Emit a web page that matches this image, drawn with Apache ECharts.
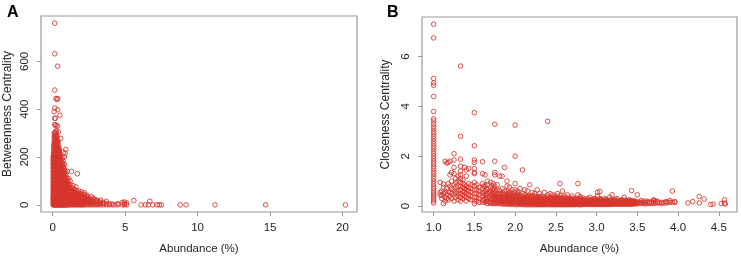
<!DOCTYPE html>
<html>
<head>
<meta charset="utf-8">
<script src="https://cdn.jsdelivr.net/npm/echarts@6/dist/echarts.min.js"></script>
<style>
html,body{margin:0;padding:0;background:#fff;}
#chart{width:741px;height:260px;}
</style>
</head>
<body>
<div id="chart"></div>
<script>
// ---------- Panel A: Abundance (%) vs Betweenness Centrality ----------
// columns: [abundance, [betweenness values at that abundance]]
const panelAColumns = [
  [0.02, [0,10,20,30,42,55,68,80,95,110,125,140,155,170,185,200]],
  [0.06, [0,8,16,25,34,45,56,66,78,90,102,115,128,140,152,165,178,190,205,220,235,250]],
  [0.1,  [0,6,14,22,30,38,47,56,65,74,83,92,101,110,120,130,140,150,160,170,180,190,200,212,224,236,248,260,272,285,300,390]],
  [0.14, [0,7,15,23,31,39,48,57,66,75,84,93,102,111,121,131,141,151,161,171,181,191,201,213,225,237,249,261,273,287,300,335,362,405,480,632,760]],
  [0.18, [0,8,16,24,32,41,50,59,68,77,86,95,104,114,124,134,144,154,164,174,184,195,206,217,228,240,252,264,276,290,305,335,362]],
  [0.22, [0,7,15,23,31,40,49,58,67,76,85,94,103,113,123,133,143,153,163,173,183,193,204,215,226,238,250,262,275,288,300,330,445]],
  [0.26, [0,8,16,24,33,42,51,60,69,78,88,98,108,118,128,138,148,158,168,178,190,202,214,226,238,250,262,275,290,310]],
  [0.3,  [0,7,15,23,32,41,50,59,68,78,88,98,108,118,128,138,148,158,168,179,190,201,212,224,236,248,260,272,285,440]],
  [0.34, [0,8,16,24,33,42,51,61,71,81,91,101,111,121,131,141,151,162,173,184,195,206,218,230,242,255,268,330,398,445,580]],
  [0.38, [0,7,15,24,33,42,51,60,70,80,90,100,110,120,130,140,151,162,173,184,195,206,218,230,245,260,305]],
  [0.42, [0,8,17,26,35,44,53,63,73,83,93,103,113,123,134,145,156,167,178,190,202,215,228,240]],
  [0.46, [0,7,15,24,33,42,52,62,72,82,92,102,112,123,134,145,156,168,180,192,205,218,230]],
  [0.5,  [0,8,16,25,34,43,53,63,73,83,93,104,115,126,137,149,161,174,187,200,212,375]],
  [0.55, [0,7,15,24,33,43,53,63,74,85,96,107,118,130,142,155,168,181,195,278]],
  [0.6,  [0,8,17,26,35,45,55,66,77,88,100,112,125,138,150,165,180]],
  [0.65, [0,7,16,25,35,45,56,67,79,91,104,117,130,145,160,175,195]],
  [0.7,  [0,8,17,27,37,48,59,71,83,96,110,124,140,155,170,185]],
  [0.75, [0,7,16,26,37,48,60,72,85,99,113,128,144,160,220]],
  [0.8,  [0,8,18,28,39,51,63,76,90,104,119,134,150,170,200]],
  [0.85, [0,7,17,28,40,52,65,79,94,110,126,142,215]],
  [0.9,  [0,8,18,29,41,54,68,83,98,114,130,232]],
  [0.95, [0,7,17,28,40,53,67,82,97,112]],
  [1.0,  [0,8,18,30,43,57,72,88,105,140]],
  [1.05, [0,7,17,28,40,53,67,82,95]],
  [1.1,  [0,8,18,30,43,57,72,85,110]],
  [1.2,  [0,7,17,29,42,56,70,85,100]],
  [1.3,  [0,8,19,31,44,58,72,140]],
  [1.4,  [0,7,17,28,40,53,66,80]],
  [1.5,  [0,8,18,29,41,54,65]],
  [1.6,  [0,7,17,28,39,50,60,75]],
  [1.7,  [0,8,18,29,40,52,130]],
  [1.8,  [0,7,16,26,36,47,58]],
  [1.9,  [0,8,17,27,37,48]],
  [2.0,  [0,7,15,24,34,44,55]],
  [2.1,  [0,8,16,25,34,44]],
  [2.2,  [0,7,15,23,32,42,50]],
  [2.35, [0,8,16,25,34,40]],
  [2.5,  [0,7,14,22,30]],
  [2.65, [0,8,16,24,35]],
  [2.8,  [0,6,13,20,28]],
  [2.95, [0,7,14,22]],
  [3.1,  [0,6,12,18]],
  [3.3,  [0,5,11,20]],
  [3.5,  [0,6,10]],
  [3.7,  [0,5,15]],
  [3.9,  [0,4]],
  [4.1,  [0,3]],
  [4.3,  [0]],
  [4.5,  [0,5]],
  [4.8,  [0,10]],
  [4.95, [0,5,12]],
  [5.1,  [0,8]],
  [5.6,  [18]],
  [6.1,  [0]],
  [6.4,  [0]],
  [6.6,  [0]],
  [6.7,  [15]],
  [6.9,  [0]],
  [7.2,  [0]],
  [7.35, [0]],
  [7.5,  [0]],
  [8.8,  [0]],
  [9.2,  [0]],
  [11.2, [0]],
  [14.7, [0]],
  [20.2, [0]]
];
// extra low-abundance points filling the dense base of panel A
const panelABase = [
  [0.08, [3,12,27,40,52,61,72,86,97,108,118,133,146,158,172,186,198,214]],
  [0.16, [4,11,19,28,36,45,54,63,72,81,90,99,108,117,127,137,147,158,168,178,188,199,210,221]],
  [0.24, [3,11,19,27,36,45,54,63,72,82,92,101,111,121,131,141,151,161,171,181,192,203]],
  [0.32, [4,12,20,28,37,46,55,64,74,84,94,104,114,124,134,144,155,166,177,188]],
  [0.4,  [3,11,20,29,38,47,56,66,76,86,96,106,116,127,138,149,160,171]],
  [0.48, [4,12,21,30,39,48,58,68,78,88,98,109,120,131,143,155]],
  [0.58, [3,11,20,29,39,49,60,71,82,93,105,117,129,141]],
  [0.68, [4,12,21,31,41,52,63,75,87,99,112,125]],
  [0.78, [3,11,21,32,43,55,67,80,93,106]],
  [0.88, [4,13,23,34,46,58,71,84,97]],
  [1.15, [3,12,22,33,45,58,70]],
  [1.35, [4,13,23,34,46,57]],
  [1.55, [3,12,22,33,44]],
  [1.75, [4,12,21,31,41]],
  [1.95, [3,11,20,29,38]],
  [2.15, [4,11,19,28]],
  [2.42, [3,10,18,26]],
  [2.72, [3,10,18]],
  [3.2,  [3,8]]
];
const ticksAX = [0, 5, 10, 15, 20];
const ticksAY = [0, 200, 400, 600];

// ---------- Panel B: Abundance (%) vs Closeness Centrality ----------
const panelBColumns = [
  [1.0,  [0.12,0.2,0.28,0.36,0.44,0.52,0.6,0.7,0.8,0.9,1.0,1.1,1.2,1.3,1.4,1.5,1.6,1.7,1.8,1.9,2.0,2.1,2.2,2.3,2.4,2.5,2.6,2.7,2.8,2.9,3.0,3.1,3.2,3.3,3.42,3.5,3.8,4.4,4.85,4.95,5.12,6.75,7.3]],
  [1.08, [0.45,0.55,0.95]],
  [1.1,  [0.3,0.6,0.42]],
  [1.12, [0.1,0.5,0.75,0.88]],
  [1.14, [0.35,0.55,1.8,0.2]],
  [1.16, [0.45,0.7,1.72,0.3]],
  [1.18, [0.25,0.6,0.9,1.75]],
  [1.2,  [0.4,0.55,0.8,1.25,1.8]],
  [1.22, [0.3,0.5,0.7,1.0,1.35]],
  [1.25, [0.2,0.45,0.65,0.85,1.3,1.55,2.1,1.85]],
  [1.27, [0.35,0.55,0.75,0.95,1.1]],
  [1.3,  [0.25,0.4,0.6,0.8,1.0,1.2,0.5]],
  [1.33, [0.2,0.35,0.5,0.65,0.8,0.95,1.1,1.25,1.4,1.6,1.88,2.8,5.62]],
  [1.36, [0.3,0.45,0.6,0.75,0.9,1.05]],
  [1.38, [0.4,0.55,0.7,0.85,1.55]],
  [1.4,  [0.2,0.35,0.5,0.65,0.8,1.2,1.45]],
  [1.43, [0.3,0.45,0.6,0.75,0.9,1.5]],
  [1.46, [0.25,0.4,0.55,0.7,0.85]],
  [1.5,  [0.1,0.2,0.35,0.5,0.65,0.8,0.95,1.3,1.35,1.5,1.75,1.85,2.42,3.75]],
  [1.53, [0.2,0.35,0.5,0.65,0.85]],
  [1.56, [0.15,0.3,0.45,0.6,0.75]],
  [1.6,  [0.15,0.25,0.4,0.55,0.7,0.9,1.3,1.78]],
  [1.63, [0.15,0.3,0.45,0.6,0.8,1.25]],
  [1.66, [0.1,0.2,0.35,0.5,0.65,0.85,1.0]],
  [1.7,  [0.1,0.2,0.3,0.45,0.6,0.75,0.95]],
  [1.73, [0.1,0.2,0.3,0.4,0.55,0.7,0.9]],
  [1.75, [0.1,0.2,0.3,0.4,0.5,0.65,0.8,1.25,1.35,1.8,3.28]],
  [1.78, [0.1,0.2,0.3,0.4,0.5,0.65,0.85]],
  [1.81, [0.1,0.18,0.28,0.38,0.5,0.62,1.2]],
  [1.84, [0.08,0.18,0.28,0.38,0.5,0.7,1.2]],
  [1.87, [0.08,0.16,0.26,0.36,0.48,0.6,1.55]],
  [1.9,  [0.08,0.16,0.25,0.35,0.45,0.6,0.8,1.0]],
  [1.93, [0.07,0.15,0.24,0.33,0.42,0.55,0.75]],
  [1.96, [0.07,0.15,0.24,0.33,0.42,0.52,0.65]],
  [2.0,  [0.05,0.12,0.2,0.28,0.36,0.45,0.55,0.65,0.9,2.0,3.25]],
  [2.03, [0.06,0.14,0.22,0.3,0.38,0.48,0.6]],
  [2.06, [0.06,0.13,0.2,0.28,0.36,0.45,0.7]],
  [2.09, [0.06,0.13,0.2,0.28,0.36,0.5,1.45]],
  [2.12, [0.05,0.12,0.19,0.26,0.34,0.45,0.65]],
  [2.15, [0.05,0.12,0.19,0.26,0.34,0.42,0.6]],
  [2.18, [0.05,0.11,0.18,0.25,0.32,0.4,0.85]],
  [2.21, [0.05,0.11,0.18,0.25,0.32,0.42,0.55]],
  [2.24, [0.05,0.11,0.17,0.24,0.31,0.4,0.5]],
  [2.27, [0.05,0.1,0.17,0.24,0.31,0.38,0.65]],
  [2.3,  [0.05,0.1,0.16,0.23,0.3,0.38,0.5]],
  [2.33, [0.05,0.1,0.16,0.23,0.3,0.4]],
  [2.36, [0.05,0.1,0.16,0.22,0.29,0.36,0.55]],
  [2.4,  [0.05,0.1,0.16,0.22,0.29,0.36,0.45,3.4]],
  [2.43, [0.05,0.1,0.15,0.21,0.28,0.35,0.5]],
  [2.46, [0.05,0.1,0.15,0.21,0.28,0.35,0.45]],
  [2.49, [0.05,0.1,0.15,0.21,0.27,0.34,0.42]],
  [2.52, [0.05,0.1,0.15,0.2,0.27,0.34,0.5]],
  [2.55, [0.05,0.1,0.15,0.2,0.26,0.33,0.42,0.9]],
  [2.58, [0.05,0.1,0.15,0.2,0.26,0.33,0.6]],
  [2.61, [0.05,0.1,0.15,0.2,0.26,0.32,0.4]],
  [2.64, [0.05,0.1,0.14,0.19,0.25,0.32,0.45]],
  [2.67, [0.05,0.09,0.14,0.19,0.25,0.31]],
  [2.7,  [0.05,0.09,0.14,0.19,0.25,0.31,0.4]],
  [2.73, [0.05,0.09,0.14,0.19,0.24,0.3]],
  [2.77, [0.05,0.09,0.14,0.19,0.24,0.3,0.45,0.9]],
  [2.8,  [0.05,0.09,0.14,0.19,0.24,0.3,0.38]],
  [2.83, [0.06,0.1,0.15,0.2,0.26,0.33]],
  [2.86, [0.06,0.1,0.14,0.19,0.24]],
  [2.89, [0.06,0.1,0.14,0.19,0.24,0.3]],
  [2.92, [0.06,0.1,0.14,0.18,0.23,0.35]],
  [2.95, [0.06,0.1,0.14,0.18,0.23,0.28]],
  [2.98, [0.06,0.1,0.14,0.18,0.23,0.3]],
  [3.01, [0.06,0.1,0.14,0.18,0.24,0.4,0.55]],
  [3.04, [0.06,0.1,0.14,0.18,0.23,0.3,0.58]],
  [3.07, [0.06,0.1,0.14,0.18,0.23]],
  [3.1,  [0.06,0.1,0.14,0.18,0.23,0.3]],
  [3.13, [0.06,0.1,0.14,0.18,0.22]],
  [3.16, [0.06,0.1,0.14,0.18,0.24,0.35]],
  [3.19, [0.07,0.11,0.15,0.2,0.45]],
  [3.22, [0.07,0.11,0.15,0.2,0.26]],
  [3.25, [0.07,0.11,0.15,0.2,0.3]],
  [3.28, [0.07,0.11,0.15,0.2]],
  [3.31, [0.07,0.11,0.15,0.2,0.25]],
  [3.34, [0.07,0.11,0.15,0.2,0.35]],
  [3.37, [0.07,0.11,0.15,0.2]],
  [3.4,  [0.07,0.11,0.15,0.2,0.25]],
  [3.43, [0.07,0.11,0.15,0.2,0.62]],
  [3.46, [0.08,0.12,0.16,0.21]],
  [3.5,  [0.08,0.12,0.16,0.45]],
  [3.55, [0.1,0.15,0.22]],
  [3.6,  [0.08,0.13,0.2]],
  [3.65, [0.1,0.15]],
  [3.7,  [0.1,0.15,0.22,0.25]],
  [3.75, [0.12,0.18]],
  [3.8,  [0.1,0.15]],
  [3.85, [0.12,0.18]],
  [3.9,  [0.15,0.22]],
  [3.93, [0.15,0.6]],
  [3.96, [0.15,0.18]],
  [4.12, [0.12]],
  [4.18, [0.18]],
  [4.26, [0.12,0.38]],
  [4.32, [0.28]],
  [4.4,  [0.06]],
  [4.43, [0.08]],
  [4.53, [0.1]],
  [4.57, [0.25,0.12]],
  [4.58, [0.08]]
];
// extra points inside the dense low band of panel B
const panelBBand = [
  [1.615, [0.22,0.5,0.8]], [1.645, [0.18,0.42,0.72]], [1.685, [0.15,0.38,0.55]],
  [1.715, [0.14,0.35,0.5,0.82]], [1.765, [0.14,0.33,0.58]], [1.795, [0.13,0.32,0.45]],
  [1.825, [0.12,0.24,0.44]], [1.855, [0.12,0.22,0.42]], [1.885, [0.11,0.21,0.4]],
  [1.915, [0.11,0.2,0.3,0.5]], [1.945, [0.1,0.19,0.28,0.46]], [1.975, [0.1,0.18,0.28,0.38]],
  [2.015, [0.09,0.17,0.25,0.42]], [2.045, [0.09,0.17,0.25,0.33]], [2.075, [0.09,0.16,0.24,0.4]],
  [2.105, [0.08,0.16,0.23,0.31]], [2.135, [0.08,0.15,0.23,0.38]], [2.165, [0.08,0.15,0.22,0.3]],
  [2.195, [0.08,0.14,0.21,0.36]], [2.225, [0.08,0.14,0.21,0.28]], [2.255, [0.08,0.14,0.2,0.35]],
  [2.285, [0.07,0.13,0.2,0.27]], [2.315, [0.07,0.13,0.19,0.34]], [2.345, [0.07,0.13,0.19,0.26]],
  [2.375, [0.07,0.13,0.19,0.32]], [2.415, [0.07,0.12,0.18,0.25]], [2.445, [0.07,0.12,0.18,0.3]],
  [2.475, [0.07,0.12,0.18,0.24]], [2.505, [0.07,0.12,0.17,0.3]], [2.535, [0.07,0.12,0.17,0.23]],
  [2.565, [0.07,0.12,0.17,0.29]], [2.595, [0.07,0.12,0.17,0.23]], [2.625, [0.07,0.12,0.17,0.28]],
  [2.655, [0.07,0.11,0.16,0.22]], [2.685, [0.07,0.11,0.16,0.27]], [2.715, [0.07,0.11,0.16,0.22]],
  [2.75, [0.07,0.11,0.16,0.26]], [2.785, [0.07,0.11,0.16,0.21]], [2.815, [0.07,0.11,0.16,0.26]],
  [2.845, [0.08,0.12,0.16,0.21]], [2.875, [0.08,0.12,0.16,0.25]], [2.905, [0.08,0.12,0.16,0.2]],
  [2.935, [0.08,0.12,0.16,0.25]], [2.965, [0.08,0.12,0.16,0.2]], [2.995, [0.08,0.12,0.16,0.26]],
  [3.025, [0.08,0.12,0.16,0.2]], [3.055, [0.08,0.12,0.16,0.26]], [3.085, [0.08,0.12,0.16,0.2]],
  [3.115, [0.08,0.12,0.16,0.25]], [3.145, [0.08,0.12,0.16,0.2]], [3.175, [0.09,0.13,0.17,0.24]],
  [3.205, [0.09,0.13,0.17,0.22]], [3.235, [0.09,0.13,0.17,0.25]], [3.265, [0.09,0.13,0.17]],
  [3.295, [0.09,0.13,0.17,0.22]], [3.325, [0.09,0.13,0.17]], [3.355, [0.09,0.13,0.17,0.24]],
  [3.385, [0.09,0.13,0.17]], [3.415, [0.09,0.13,0.17,0.22]], [3.445, [0.1,0.14,0.18]],
  [3.475, [0.1,0.14,0.18]], [3.525, [0.11,0.16]], [3.575, [0.11,0.17]], [3.625, [0.12,0.18]],
  [3.675, [0.12,0.17]], [3.725, [0.13,0.2]], [3.775, [0.13]], [3.825, [0.14]], [3.875, [0.15]]
];
const ticksBX = [1.0, 1.5, 2.0, 2.5, 3.0, 3.5, 4.0, 4.5];
const ticksBY = [0, 2, 4, 6];

const panelLabels = ['A', 'B'];
const xTitle = 'Abundance (%)';
const yTitles = ['Betweenness Centrality', 'Closeness Centrality'];

function expand(...groups) {
  const out = [];
  for (const cols of groups) for (const [x, ys] of cols) for (const y of ys) out.push([x, y]);
  return out;
}

const FONT = '"Liberation Sans", Arial, Helvetica, sans-serif';
const RED = '#d7352b';
const BOX = '#9a9a9a';
const TXT = '#262626';

function xAxisCfg(gridIndex, min, max, ticks, fmt) {
  return {
    type: 'value', gridIndex, min, max, position: 'bottom',
    axisLine: { show: false, onZero: false },
    splitLine: { show: false },
    axisTick: { show: true, customValues: ticks, length: 4, lineStyle: { color: BOX, width: 1 } },
    axisLabel: { customValues: ticks, margin: 10, fontSize: 11.5, color: TXT, fontFamily: FONT, formatter: fmt },
    name: xTitle, nameLocation: 'middle', nameGap: 31,
    nameTextStyle: { fontSize: 11.5, color: TXT, fontFamily: FONT }
  };
}
function yAxisCfg(gridIndex, min, max, ticks, name, gap) {
  return {
    type: 'value', gridIndex, min, max, position: 'left',
    axisLine: { show: false, onZero: false },
    splitLine: { show: false },
    axisTick: { show: true, customValues: ticks, length: 4, lineStyle: { color: BOX, width: 1 } },
    axisLabel: { customValues: ticks, margin: 10, fontSize: 11.5, color: TXT, fontFamily: FONT, rotate: 90, verticalAlign: 'bottom' },
    name, nameLocation: 'middle', nameGap: gap,
    nameTextStyle: { fontSize: 12, color: TXT, fontFamily: FONT }
  };
}
const pointStyle = {
  type: 'scatter',
  symbol: 'circle',
  symbolSize: 4.6,
  itemStyle: { color: 'rgba(0,0,0,0)', borderColor: RED, borderWidth: 0.95, opacity: 0.9 },
  silent: true
};

const chart = echarts.init(document.getElementById('chart'), null, { renderer: 'canvas' });
chart.setOption({
  animation: false,
  backgroundColor: '#fff',
  title: [
    { text: panelLabels[0], left: 2, top: 0, textStyle: { fontSize: 16, fontWeight: 'bold', color: '#000', fontFamily: FONT } },
    { text: panelLabels[1], left: 382, top: 0, textStyle: { fontSize: 16, fontWeight: 'bold', color: '#000', fontFamily: FONT } }
  ],
  grid: [
    { left: 41, top: 16, width: 316, height: 197, show: true, borderColor: BOX, borderWidth: 1.2, backgroundColor: 'transparent' },
    { left: 422, top: 17, width: 315, height: 197, show: true, borderColor: BOX, borderWidth: 1.2, backgroundColor: 'transparent' }
  ],
  xAxis: [
    xAxisCfg(0, -0.81, 21.0, ticksAX, v => String(v)),
    xAxisCfg(1, 0.857, 4.723, ticksBX, v => v.toFixed(1))
  ],
  yAxis: [
    yAxisCfg(0, -30, 790, ticksAY, yTitles[0], 27),
    yAxisCfg(1, -0.24, 7.59, ticksBY, yTitles[1], 30)
  ],
  series: [
    Object.assign({}, pointStyle, { xAxisIndex: 0, yAxisIndex: 0, data: expand(panelAColumns, panelABase) }),
    Object.assign({}, pointStyle, { xAxisIndex: 1, yAxisIndex: 1, data: expand(panelBColumns, panelBBand) })
  ]
});
</script>
</body>
</html>
